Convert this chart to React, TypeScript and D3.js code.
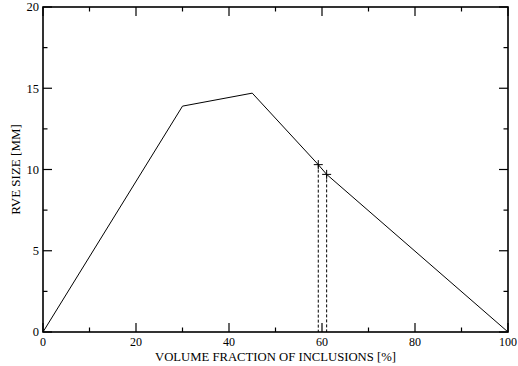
import React from "react"
import * as d3 from "d3"

// curve points: volume fraction [%] vs RVE size [mm]
const fractions = [0, 30, 45, 59.2, 61, 100]
const rveSizes = [0, 13.9, 14.7, 10.3, 9.7, 0]

// marked points with drop lines
const markedFractions = [59.2, 61]
const markedSizes = [10.3, 9.7]

const xMajor = [0, 20, 40, 60, 80, 100]
const xMinor = [10, 30, 50, 70, 90]
const yMajor = [0, 5, 10, 15, 20]
const yMinor = [2.5, 7.5, 12.5, 17.5]

const W = 518
const H = 366
const margin = { left: 43, right: 10, top: 7, bottom: 34 }

const font = "'Liberation Serif', serif"

const App: React.FC = () => {
  const x = d3.scaleLinear().domain([0, 100]).range([margin.left, W - margin.right])
  const y = d3.scaleLinear().domain([0, 20]).range([H - margin.bottom, margin.top])

  const [x0, x1] = x.range()
  const [y0, y1] = y.range()

  const line = d3
    .line<number>()
    .x((_, i) => x(fractions[i]))
    .y((d) => y(d))

  const major = 9
  const minor = 4.5

  return (
    <svg
      width={W}
      height={H}
      style={{ position: "absolute", left: 0, top: 0, background: "white", fontFamily: font }}
    >
      {/* x ticks, bottom and top, pointing in */}
      {xMajor.map((t) => (
        <g key={"xM" + t}>
          <line x1={x(t)} x2={x(t)} y1={y0} y2={y0 - major} stroke="black" strokeWidth={1.2} />
          <line x1={x(t)} x2={x(t)} y1={y1} y2={y1 + major} stroke="black" strokeWidth={1.2} />
          <text x={x(t)} y={y0 + 14.3} textAnchor="middle" style={{ fontFamily: font, fontSize: 12 }}>
            {t}
          </text>
        </g>
      ))}
      {xMinor.map((t) => (
        <g key={"xm" + t}>
          <line x1={x(t)} x2={x(t)} y1={y0} y2={y0 - minor} stroke="black" strokeWidth={1.2} />
          <line x1={x(t)} x2={x(t)} y1={y1} y2={y1 + minor} stroke="black" strokeWidth={1.2} />
        </g>
      ))}
      {/* y ticks, left and right */}
      {yMajor.map((t) => (
        <g key={"yM" + t}>
          <line x1={x0} x2={x0 + major} y1={y(t)} y2={y(t)} stroke="black" strokeWidth={1.2} />
          <line x1={x1} x2={x1 - major} y1={y(t)} y2={y(t)} stroke="black" strokeWidth={1.2} />
          <text
            x={x0 - 4}
            y={y(t)}
            dy="0.35em"
            textAnchor="end"
            style={{ fontFamily: font, fontSize: 12.5 }}
          >
            {t}
          </text>
        </g>
      ))}
      {yMinor.map((t) => (
        <g key={"ym" + t}>
          <line x1={x0} x2={x0 + minor} y1={y(t)} y2={y(t)} stroke="black" strokeWidth={1.2} />
          <line x1={x1} x2={x1 - minor} y1={y(t)} y2={y(t)} stroke="black" strokeWidth={1.2} />
        </g>
      ))}

      {/* drop lines */}
      {markedFractions.map((f, i) => (
        <line
          key={"d" + i}
          x1={x(f)}
          x2={x(f)}
          y1={y(markedSizes[i])}
          y2={y0}
          stroke="black"
          strokeWidth={1}
          strokeDasharray="3,2"
        />
      ))}

      <path d={line(rveSizes) || ""} fill="none" stroke="black" strokeWidth={1} />

      {/* plus markers */}
      {markedFractions.map((f, i) => (
        <g key={"p" + i} stroke="black" strokeWidth={1}>
          <line x1={x(f) - 4.5} x2={x(f) + 4.5} y1={y(markedSizes[i])} y2={y(markedSizes[i])} />
          <line x1={x(f)} x2={x(f)} y1={y(markedSizes[i]) - 4.5} y2={y(markedSizes[i]) + 4.5} />
        </g>
      ))}

      {/* frame */}
      <rect x={x0} y={y1} width={x1 - x0} height={y0 - y1} fill="none" stroke="black" strokeWidth={1.6} />

      <text x={(x0 + x1) / 2} y={360.5} textAnchor="middle" style={{ fontFamily: font, fontSize: 12.7 }}>
        VOLUME FRACTION OF INCLUSIONS [%]
      </text>
      <text
        transform={`translate(20, ${(y0 + y1) / 2}) rotate(-90)`}
        textAnchor="middle"
        style={{ fontFamily: font, fontSize: 13 }}
      >
        RVE SIZE [MM]
      </text>
    </svg>
  )
}

export default App
